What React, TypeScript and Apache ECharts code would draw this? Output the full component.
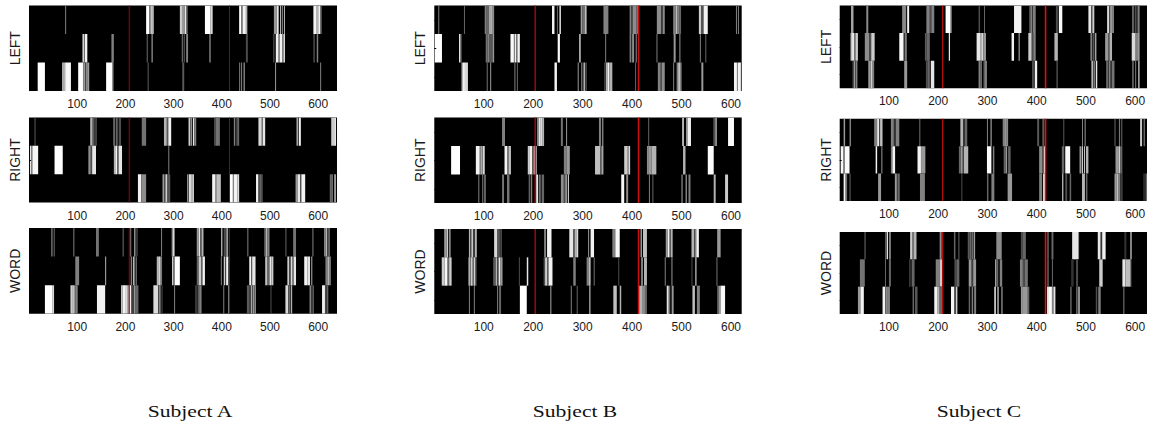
import React, { useEffect, useRef } from "react";
import * as echarts from "echarts";

type Seg = [number, number, number];
type Rows = Seg[][];

const tickLabels = [100, 200, 300, 400, 500, 600];
const rowTicks = [0.5, 1.5, 2.5];
const subjects = ["Subject A", "Subject B", "Subject C"];
const rowNames = ["LEFT", "RIGHT", "WORD"];

const leftA: Rows = [
  [[75,76,.5],[243,249,1],[249,252,.5],[252,255,.85],[255,259,.7],[313,319,.8],[319,323,.6],[323,326,.9],[326,329,.5],[365,376,1],[376,381,.85],[436,441,1],[441,443,.4],[443,450,.95],[450,453,.7],[508,514,.6],[514,518,.9],[521,523,.8],[525,527,.5],[529,530,.7],[590,597,.95],[597,600,.7],[600,604,.95],[604,607,.5]],
  [[111,114,.9],[114,116,.4],[116,121,.95],[171,176,.5],[244,247,.3],[254,257,.5],[317,319,.5],[321,323,.4],[326,330,.5],[374,377,.5],[450,454,.3],[507,509,.4],[512,518,.95],[518,520,.5],[520,526,.95],[526,528,.5],[528,531,.9],[590,593,.3],[597,600,.5]],
  [[18,33,1],[69,72,.9],[72,75,.7],[75,87,.97],[102,112,1],[112,115,.5],[115,117,.9],[117,119,.2],[119,121,.8],[121,125,.6],[160,173,1],[173,174,.7],[246,248.5,.3],[318,322,.35],[436,438,.5],[440,442,.5],[445,448,.5],[510.5,512,.6],[604,605.5,.5]],
];
const rightA: Rows = [
  [[11,14,.25],[127,132,.7],[133,136,.4],[138,140,.5],[175,178,.5],[180,184,.4],[186,191,.3],[234,243,.45],[280,286,.7],[286,289,.35],[289,295,.95],[331,335,.8],[336,338,.6],[340,343,.9],[343,347,.5],[384,387,.3],[387,396,.45],[425,428,.5],[430,432,.3],[432,436,.4],[476,483,.85],[483,485,.4],[485,490,.9],[555,558,.7],[558,560,.2],[560,564,.95],[627,633,.8],[633,637,.9]],
  [[2,5,.9],[5,7,.6],[7,19,.97],[53,70,1],[123,125,.5],[125,128,.7],[128,131,.3],[131,139,.9],[176,179,.7],[179,183,.95],[183,186,.45],[186,193,.9],[289,290.5,.5]],
  [[226,233,.95],[233,243,.55],[277,281,.6],[281,283,.3],[283,287,.8],[287,290,.4],[290,293,.35],[328,331,.6],[332,336,.9],[336,339,.7],[339,342,.95],[380,386,.95],[386,390,.6],[390,398,.75],[417,423,1],[423,425,.5],[425,432,.95],[432,436,.85],[471,476,.95],[478,481,.5],[481,485,.3],[553,558,.6],[558,563,.9],[563,565,.3],[565,573,.95],[624,628,.4],[628,630,.6],[633,637,.6]],
];
const wordA: Rows = [
  [[46,49,.45],[51,54,.3],[92,93.5,.5],[139,145,.45],[194,197,.3],[210,212,.5],[218,221,.6],[223,225,.4],[274,275.5,.5],[296,298,.6],[298,302,.85],[348,352,.6],[352,355,.9],[355,358,.4],[358,362,.7],[399,401,.95],[404,407,.3],[408,410,.7],[411,413,.7],[453,455,.5],[488,491,.4],[491,495,.7],[495,499,.5],[532,534,.4],[548,554,.45],[588,589.5,.5],[612,616,.5],[616,619,.7],[621,624,.5]],
  [[96,104,.5],[158,159.5,.7],[211,214,.5],[216,219,.8],[221,224,.4],[265,270,.7],[270,273,.95],[274,276,.5],[297,300,.95],[300,302,.3],[302,313,1],[348,352,.4],[352,357,.8],[357,360,.4],[360,365,.95],[398,400,.5],[404,407,.8],[407,409,.3],[409,413,.95],[414,417,.6],[457,461,.95],[461,463,.4],[463,470,.9],[490,495,.75],[495,499,.4],[499,503,.9],[503,507,.8],[536,540,.8],[540,543,.3],[543,547,.85],[547,549,.4],[549,554,.9],[571,578,.95],[578,583,.9],[585,588,.5],[615,619,.5],[619,623,.7],[623,626,.6]],
  [[33,48,1],[48,52,.85],[86,90,.8],[90,93,.95],[93,96,.6],[96,101,.5],[141,158,.95],[191,194,.8],[194,201,.95],[201,205,.85],[205,208,.6],[208,212,.95],[212,215,.4],[217,220,.6],[220,227,.4],[258,268,.85],[268,270,.3],[270,273,.6],[275,277,.3],[301,303,.5],[345,348,.3],[350,352,.5],[353,358,.5],[403,405,.5],[413,414.5,.5],[452,458,.35],[460,462,.9],[464,466,.9],[468,470,.9],[501,502.5,.3],[532,538,.85],[539,541,.5],[543,546,.7],[582,586,.5],[588,591,.4],[608,614,.95],[615,617,.5],[618,621,.4]],
];
const leftB: Rows = [
  [[8,9.5,.5],[60,62,.4],[102,106,.5],[106,110,.4],[110,115,.65],[115,118,.8],[118,121,.55],[238,243,.95],[248,250,.4],[253,256,.9],[296,299,.6],[299,304,.45],[304,308,.75],[342,352,.5],[395,398,.5],[398,401,.3],[401,409,.55],[409,414,.5],[450,459,.55],[459,462,.25],[462,466,.55],[483,488,.5],[488,492,.75],[492,495,.5],[495,499,.4],[535,540,.8],[540,543,.35],[543,545,.5],[545,553,.95],[610,612,.5],[614,616,.5]],
  [[1,15.5,1],[50,52,.9],[52,55,.5],[104,108,.45],[108,112,.5],[112,115,.35],[115,118,.4],[118,121,.6],[154,161,.98],[161,163,.5],[163,166,.95],[166,168,.5],[168,173,.95],[249.5,254,.98],[293,296,.8],[345.5,347,.5],[395,398,.5],[398,400,.2],[400,404,.55],[407,410,.4],[449,451.5,.4],[484,488,.6],[495,498,.4],[537,539,.5],[548,550,.4]],
  [[55,58,.7],[58,62,.95],[62,68,.85],[106,108,.45],[113,115,.6],[162,164,.5],[167,168.5,.4],[243,248,.95],[290,292,.6],[297,299,.5],[300,303,.4],[303,305,.8],[306,308,.4],[344,346,.4],[347,350,.7],[350,354,.95],[354,360,.7],[406,408,.4],[452,458,.5],[458,460,.3],[460,466,.55],[483,485,.5],[490,493,.5],[493,497,.75],[497,500,.55],[540,544,.6],[606,612,.95],[613,620,.95]],
];
const rightB: Rows = [
  [[137,143,.5],[208,211,.6],[211,214,.9],[214,218,.85],[218,222,.7],[256,260,.45],[266.5,268,.6],[333,337,.5],[339,342,.5],[432.5,434,.4],[501,505,.7],[509,512,.6],[512,519,.95],[564,568,.3],[568,571.5,.6],[594,606,.98]],
  [[34,52,1],[84,92,.95],[92,94,.5],[94,96,.9],[96,98,.5],[98,102,.85],[142,148,.95],[148,151,.5],[151,155,.75],[189,192,.8],[192,198,.95],[198,201,.4],[201,207,.85],[262,268,.5],[268,274,.6],[325,336,.75],[336,338,.4],[338,342,.65],[384,390,.8],[390,393,.7],[393,396,.85],[430,434,.55],[434,439,.6],[439,449,.7],[503,508,.7],[553,565,.99]],
  [[89,90.5,.5],[97,99,.5],[101,104,.5],[137,141,.45],[147,152,.45],[191,193,.5],[195,198,.5],[206,210,.9],[212,215,.5],[217,222,.4],[256,262,.55],[262,265,.3],[265,268,.7],[270,272,.95],[378,384,.97],[388,392,.55],[434,436,.5],[441,443,.4],[499,503,.35],[508,511,.5],[514,518,.5],[565,569,.7],[588,594,.8]],
];
const wordB: Rows = [
  [[20,25,.6],[25,28,.8],[30,33,.6],[70,73,.7],[75,78,.9],[79,81,.4],[82,86,.7],[121,127,.85],[127,130,.4],[130,132,.5],[134,136,.5],[222,226,.5],[228,237,.95],[273,281,.9],[281,284,.4],[284,287,.7],[287,291,.85],[311,313,.6],[316,323,.95],[360,366,.5],[366,375,.97],[416,418,.3],[418,420,.6],[422,430,.75],[468,472,.6],[472,476,.95],[476,478,.3],[478,482,.7],[520,526,.7],[526,528,.3],[528,531,.8],[531,535,.95],[572,579,.6]],
  [[15,21,.8],[21,27,.97],[27,30,.4],[30,35,.8],[69,71,.7],[71,73,.95],[74,76,.9],[77,79,.9],[80,82,.95],[83,85,.6],[119,124,.35],[124,127,.7],[127,130,.3],[130,134,.9],[134,138,.6],[171,172.5,.3],[187,190,.9],[221,224,.3],[224,228,.8],[228,231,.4],[231,239,.95],[281,286,.5],[308,313,.5],[313,316,.8],[322,325,.3],[372,373,.3],[418,422,.5],[424,430,.7],[466,468,.5],[479,482,.4],[520,522,.3],[528,530,.95],[570,573,.3]],
  [[70,72,.5],[80,82,.5],[127,129,.5],[131,135,.4],[173,187,1],[234,237,.45],[276,278,.5],[288,290,.4],[313,316,.6],[362,369,.75],[375,378,.7],[414,420,.7],[420,426,.55],[426,430,.4],[470,474,.9],[475,477,.5],[480,484,.6],[522,527,.75],[531,537,.5],[572,576,.4],[576,579,.7],[579,588,.98]],
];
const leftC: Rows = [
  [[23,28,.65],[54,58,.55],[127,130,.6],[130,132,.8],[132,135,.5],[137,141,.95],[176,183,.5],[183,186,.3],[186,192,.5],[215,225,1],[225,227,.8],[282,285,.3],[293,295,.4],[354,369,.95],[385,387,.4],[387,391,.5],[392,398,.5],[439,443,.3],[445,452,.98],[505,511,.9],[511,513,.3],[513,517,.8],[543,547,.85],[547,549,.3],[549,553,.6],[553,557,.5],[594,597,.5],[599,602,.3],[602,605,.2],[605,609,.5]],
  [[22,25,.75],[25,30,.9],[30,32,.5],[32,37,.8],[51,58,.55],[58,60,.7],[60,64,.3],[64,71,.8],[121,130,.97],[130,133,.2],[133,136,.6],[173,176,.35],[176,183,.4],[221.5,224,.9],[278,285,.9],[285,289,.7],[289,292,.85],[292,297,.6],[349,354,.95],[363,366,.5],[383,390,.8],[390,393,.3],[393,398,.5],[436,443,.7],[509,513,.5],[515,517,.5],[519,521,.9],[539,545,.6],[545,548,.4],[548,553,.7],[593,601,.85],[601,604,.5],[604,609,.6]],
  [[26,29,.3],[29,32,.6],[33,36,.5],[58,63,.6],[63,67,.8],[67,70,.5],[131,137,.6],[175,178,.3],[178,183,.4],[185,192,.9],[282,285,.5],[285,289,.4],[292,295,.4],[295,299,.5],[391,394,.4],[396,401,.95],[440,443,.3],[511,515,.7],[516,518,.6],[520,523,.9],[541,545,.4],[546,550,.5],[552,558,.45],[594,597,.45],[600,602,.5],[606,609,.7]],
];
const rightC: Rows = [
  [[8,11,.6],[20,23,.5],[70,76,.5],[76,80,.9],[80,82,.3],[82,87,.75],[104,110,.5],[110,114,.2],[114,121,.5],[161,164,.3],[245,251,.7],[251,254,.2],[254,259,.4],[299,301,.5],[306,309,.5],[331,336,.5],[336,339,.7],[339,342,.55],[401,405,.35],[412,414,.6],[416,417,.3],[454,456,.35],[492,494,.5],[497,500,.4],[558,560,.4],[567,569,.5],[571,574,.3],[610,614,.8],[617,620,.4]],
  [[2,8,.97],[8,10,.4],[10,20,.98],[73,76,.95],[84,87,.4],[104,107,.5],[107,112.5,.95],[158,165,.95],[165,167,.6],[167,174,.6],[242,246,.4],[246,250,.6],[250,252,.2],[252,261,.7],[299,308,.98],[311,314,.5],[333,337,.4],[337,340,.6],[342,347,.4],[405,412,.55],[414,418,.95],[451,456,.4],[458,468,.98],[487,491,.6],[492,494,.8],[496,498,.8],[500,505,.7],[560,567,.6],[567,570,.8],[570,574,.4]],
  [[8,12,.95],[13,14,.5],[20,22,.4],[78,84,.6],[112,116,.6],[117,122,.4],[163,173,.5],[247,249,.3],[299,302,.4],[308,314,.5],[341,350,.6],[405,411,.5],[413,418,.9],[452,454,.95],[458,462,.3],[467,470,.4],[492,498,.7],[500,503,.4],[558,562,.6],[562,565,.8],[565,570,.5],[572,574,.4],[617,619,.3],[621,624,.4]],
];
const wordC: Rows = [
  [[50,53,.3],[93,95,.7],[96,98,.9],[100,104,.5],[143,148,.8],[148,150,.5],[150,156,.7],[203,207,.55],[232,235,.4],[241,243,.4],[260,264,.35],[264,268,.4],[269,271,.5],[272,275,.6],[318,329,.55],[368,372,.3],[372,378,.4],[421,425,.3],[430,434,.4],[472,484,.9],[484,485,.6],[524,530,.9],[530,533,.2],[533,540,.95],[578,582,.2],[590,593,.7]],
  [[41,51,.45],[92,94,.4],[100,104,.4],[141,144,.25],[146,152,.4],[195,203,.5],[203,208,.8],[233,237,.3],[237,243,.4],[262,268,.6],[268,271,.25],[271,277,.6],[316,318,.9],[318,322,.4],[325,330,.5],[366,372,.5],[372,376,.3],[376,382,.45],[421,425,.3],[431,433,.4],[470,475,.2],[480,484,.3],[527,534,.8],[574,580,.9],[580,590,.75],[590,592,.6]],
  [[37,42,.6],[42,49,.95],[87,93,.95],[93,95,.3],[95,97,.9],[97,102,.5],[148,151,.4],[153,158,.35],[192,199,.95],[199,203,.7],[203,208,.4],[226,233,.97],[233,236,.3],[236,239,.8],[262,265,.4],[268,271,.5],[273,277,.5],[314,317,.95],[320,323,.7],[328,331,.5],[368,372,.6],[372,382,.6],[382,385,.4],[421,425,.9],[425,431,.98],[431,434,.5],[434,438,.9],[468,471,.4],[480,482,.4],[483,488,.55],[520,523,.3],[525,530,.5],[576,578,.5]],
];

const redA = [208, 416];
const redB = [204, 413];
const redC = [209, 418];

const panels = [
  { rows: [leftA, rightA, wordA], red: redA, redColors: ["#980606", "#980606"], redWidth: [1, 1], left: 29, width: 308, xMax: 639, tops: [5.5, 117.5, 228], heights: [85.5, 85, 85.7] },
  { rows: [leftB, rightB, wordB], red: redB, redColors: ["#b00c0c", "#cc1010"], redWidth: [1.3, 1.6], left: 434.3, width: 307.4, xMax: 621.6, tops: [5.5, 117.5, 229], heights: [85.5, 85.5, 85] },
  { rows: [leftC, rightC, wordC], red: redC, redColors: ["#b00c0c", "#dd1010"], redWidth: [1.3, 1.6], left: 839.7, width: 307.3, xMax: 624, tops: [5.5, 118.7, 232], heights: [82.8, 82.3, 82] },
];

const subjectCenters = [190, 575, 979];

function grayColor(v: number) {
  const g = Math.round(v * 255);
  return `rgb(${g},${g},${g})`;
}

function renderSeg(_: any, api: any) {
  const a = api.coord([api.value(0), api.value(2)]);
  const b = api.coord([api.value(1), api.value(2) + 1]);
  return {
    type: "rect",
    shape: { x: a[0], y: a[1], width: Math.max(b[0] - a[0], 1), height: b[1] - a[1] },
    style: { fill: grayColor(api.value(3)) },
  };
}

function buildOption() {
  const grid: any[] = [];
  const xAxis: any[] = [];
  const yAxis: any[] = [];
  const series: any[] = [];
  panels.forEach((p) => {
    p.rows.forEach((rows, r) => {
      const idx = grid.length;
      grid.push({
        left: p.left,
        top: p.tops[r],
        width: p.width,
        height: p.heights[r],
        show: true,
        backgroundColor: "#000",
        borderWidth: 0,
      });
      xAxis.push({
        type: "value",
        gridIndex: idx,
        min: 0,
        max: p.xMax,
        splitLine: { show: false },
        axisLine: { show: false },
        axisTick: { show: false },
        axisLabel: {
          customValues: tickLabels,
          margin: 7,
          fontFamily: "Liberation Sans",
          fontSize: 12,
          color: "#1a1a1a",
        },
      });
      yAxis.push({
        type: "value",
        gridIndex: idx,
        min: 0,
        max: 3,
        inverse: true,
        z: 6,
        splitLine: { show: false },
        axisLine: { show: false },
        axisTick: { show: true, inside: true, length: 2, customValues: rowTicks, lineStyle: { color: "#000", width: 1 } },
        axisLabel: { show: false },
        name: rowNames[r],
        nameLocation: "middle",
        nameGap: 7,
        nameRotate: 90,
        nameTextStyle: { fontFamily: "Liberation Sans", fontSize: 14, color: "#1a1a1a" },
      });
      const data: number[][] = [];
      rows.forEach((segs, row) => segs.forEach((s) => data.push([s[0], s[1], row, s[2]])));
      series.push({
        type: "custom",
        xAxisIndex: idx,
        yAxisIndex: idx,
        z: 1,
        renderItem: renderSeg,
        encode: { x: [0, 1], y: 2 },
        data,
        silent: true,
        clip: true,
      });
      series.push({
        type: "custom",
        xAxisIndex: idx,
        yAxisIndex: idx,
        z: 5,
        silent: true,
        encode: { x: 0 },
        data: p.red.map((x, i) => [x, i]),
        renderItem: (_: any, api: any) => {
          const i = api.value(1);
          const a = api.coord([api.value(0), 0]);
          const b = api.coord([api.value(0), 3]);
          return {
            type: "rect",
            shape: { x: a[0] - p.redWidth[i] / 2, y: a[1], width: p.redWidth[i], height: b[1] - a[1] },
            style: { fill: p.redColors[i] },
          };
        },
      });
    });
  });
  return {
    animation: false,
    backgroundColor: "#fff",
    graphic: subjects.map((s, i) => ({
      type: "text",
      x: subjectCenters[i],
      y: 411,
      scaleX: 1.27,
      style: {
        text: s,
        fill: "#111",
        font: "17px 'Liberation Serif'",
        textAlign: "center",
        textVerticalAlign: "middle",
      },
    })),
    grid,
    xAxis,
    yAxis,
    series,
  };
}

export default function App() {
  const ref = useRef<HTMLDivElement>(null);
  useEffect(() => {
    const chart = echarts.init(ref.current!, null, { renderer: "svg" });
    chart.setOption(buildOption() as any);
    return () => chart.dispose();
  }, []);
  return <div ref={ref} style={{ position: "absolute", left: 0, top: 0, width: 1150, height: 425 }} />;
}
